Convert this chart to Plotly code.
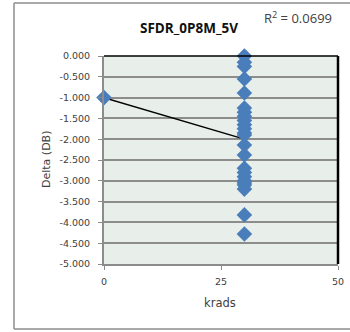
import numpy as np
import plotly.graph_objects as go

# ---- data ----
x_vals = [0] + [30] * 24
y_vals = [-1.00,
          0.00, -0.15, -0.25, -0.55, -0.89,
          -1.25, -1.35, -1.45, -1.55, -1.65, -1.75, -1.85, -1.90,
          -2.14, -2.38,
          -2.70, -2.80, -2.90, -3.00, -3.05, -3.10, -3.20,
          -3.82, -4.28]
y_ticks = [0, -0.5, -1, -1.5, -2, -2.5, -3, -3.5, -4, -4.5, -5]
y_tick_labels = ["0.000", "-0.500", "-1.000", "-1.500", "-2.000", "-2.500",
                 "-3.000", "-3.500", "-4.000", "-4.500", "-5.000"]
x_ticks = [0, 25, 50]
x_tick_labels = ["0", "25", "50"]
title_text = "SFDR_0P8M_5V"
r2_text = "R<sup>2</sup> = 0.0699"

# linear trendline from the data
slope, intercept = np.polyfit(x_vals, y_vals, 1)
tx = [min(x_vals), max(x_vals)]
ty = [intercept + slope * v for v in tx]

fig = go.Figure()
fig.add_trace(go.Scatter(x=tx, y=ty, mode="lines",
                         line=dict(color="black", width=1.5),
                         cliponaxis=False, showlegend=False))
fig.add_trace(go.Scatter(x=x_vals, y=y_vals, mode="markers",
                         marker=dict(symbol="diamond", size=12, color="#4A7EBB"),
                         cliponaxis=False, showlegend=False))

tick_font = dict(family="DejaVu Sans", size=9.5, color="#404040")
border = dict(color="#8C8C8C", width=1.5)
px_x = lambda p: (p - 104) / 234
px_y = lambda p: (264 - p) / 208
fig.update_layout(
    template="none",
    autosize=False,
    width=350, height=332,
    margin=dict(l=104, r=12, t=56, b=68, pad=0, autoexpand=False),
    paper_bgcolor="white",
    plot_bgcolor="#E8EEEA",
    title=dict(text=title_text, x=px_x(189), xref="paper", xanchor="center",
               y=1 - 28 / 332, yanchor="middle",
               font=dict(family="Open Sans", size=13.5, color="#111111", weight="bold")),
    xaxis=dict(range=[0, 50], tickvals=x_ticks, ticktext=x_tick_labels,
               showgrid=False, zeroline=False, showline=True, linecolor="#8C8C8C",
               linewidth=2, ticks="outside", ticklen=4, tickcolor="#8C8C8C",
               ticklabelstandoff=4, automargin=False,
               tickfont=tick_font, fixedrange=True),
    yaxis=dict(range=[-5, 0], tickvals=y_ticks, ticktext=y_tick_labels,
               showgrid=True, gridcolor="#8C8C8C", gridwidth=2, zeroline=False,
               showline=True, linecolor="#8C8C8C", linewidth=2,
               ticks="outside", ticklen=4, tickcolor="#8C8C8C",
               ticklabelstandoff=6, automargin=False,
               tickfont=tick_font, fixedrange=True),
    shapes=[
        # chart area border (open on the right, as cropped in the reference)
        dict(type="line", xref="paper", yref="paper",
             x0=px_x(14), x1=px_x(350), y0=px_y(3), y1=px_y(3), line=border),
        dict(type="line", xref="paper", yref="paper",
             x0=px_x(14), x1=px_x(350), y0=px_y(329), y1=px_y(329), line=border),
        dict(type="line", xref="paper", yref="paper",
             x0=px_x(14), x1=px_x(14), y0=px_y(3), y1=px_y(329), line=border),
        # plot area top/right border
        dict(type="line", xref="paper", yref="paper", x0=0, x1=1, y0=1, y1=1,
             line=dict(color="black", width=1.5)),
        dict(type="line", xref="paper", yref="paper", x0=1, x1=1, y0=0, y1=1,
             line=dict(color="black", width=2.5)),
    ],
    annotations=[
        dict(text=r2_text, xref="paper", yref="paper",
             x=px_x(298), y=px_y(17), xanchor="center", yanchor="middle",
             showarrow=False, font=dict(family="Open Sans", size=13, color="#404040")),
        dict(text="Delta (DB)", xref="paper", yref="paper", textangle=-90,
             x=px_x(46), y=px_y(160), xanchor="center", yanchor="middle",
             showarrow=False, font=dict(family="DejaVu Sans", size=11, color="#404040")),
        dict(text="krads", xref="paper", yref="paper",
             x=px_x(220), y=px_y(303), xanchor="center", yanchor="middle",
             showarrow=False, font=dict(family="DejaVu Sans", size=11.5, color="#404040")),
    ],
)

fig.write_html("out.html", config={"displayModeBar": False},
               post_script="document.body.style.margin='0';document.body.style.overflow='hidden';")
